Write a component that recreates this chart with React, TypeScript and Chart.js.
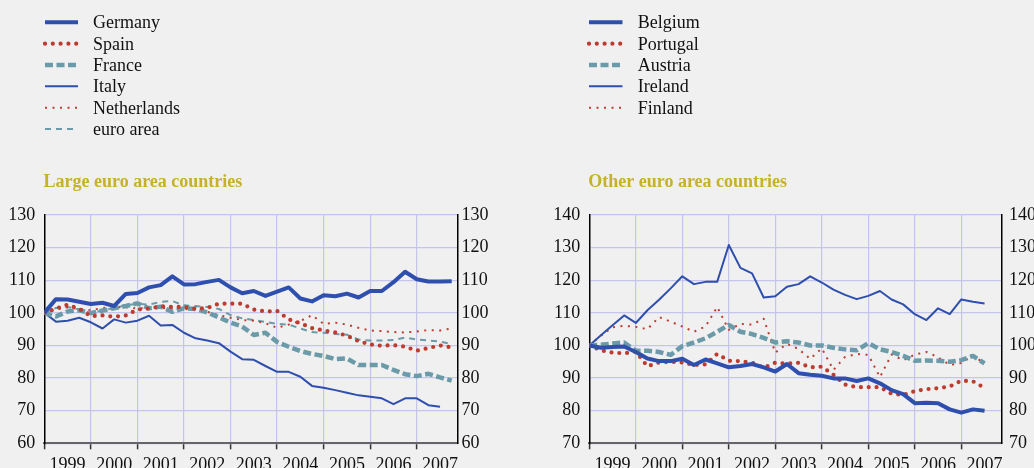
import React, { useEffect, useRef } from "react";
import { Chart, registerables } from "chart.js";

Chart.register(...registerables);

// ---------- data (quarterly, 1999 Q1 = index 0) ----------
const years = ["1999", "2000", "2001", "2002", "2003", "2004", "2005", "2006", "2007"];

const germany = [100, 104.2, 104.1, 103.4, 102.7, 103.1, 102.1, 105.8, 106.1, 107.8, 108.5, 111.2, 108.7, 108.8, 109.5, 110.1, 107.8, 106.0, 106.7, 105.2, 106.5, 107.8, 104.4, 103.5, 105.4, 105.1, 105.9, 104.7, 106.7, 106.7, 109.4, 112.6, 110.3, 109.6, 109.6, 109.7];
const spain = [100, 101.3, 102.5, 101.2, 99.0, 99.2, 98.8, 99.2, 101.0, 101.3, 102.0, 101.8, 101.8, 101.2, 101.5, 102.8, 102.8, 102.8, 101.0, 100.4, 100.6, 98.0, 96.8, 95.3, 94.6, 94.0, 93.0, 91.3, 90.3, 89.9, 90.1, 89.6, 88.4, 89.2, 90.0, 89.4];
const france = [100, 98.9, 100.4, 100.8, 99.9, 100.7, 101.4, 102.1, 102.9, 101.4, 101.9, 100.3, 101.4, 101.2, 100.1, 98.6, 97.0, 95.8, 93.2, 93.9, 91.1, 89.6, 88.3, 87.4, 86.8, 85.8, 86.0, 84.0, 84.0, 84.0, 82.5, 81.2, 80.6, 81.3, 80.2, 79.2];
const italy = [100, 97.3, 97.6, 98.5, 97.1, 95.2, 98.0, 97.0, 97.6, 99.1, 96.1, 96.3, 93.9, 92.2, 91.5, 90.7, 88.1, 85.8, 85.6, 83.7, 81.9, 81.9, 80.4, 77.6, 77.0, 76.3, 75.5, 74.7, 74.3, 73.8, 72.0, 73.8, 73.8, 71.7, 71.2];
const netherlands = [100, 101.0, 101.7, 101.2, 100.8, 101.5, 101.7, 101.7, 101.3, 101.5, 101.5, 101.3, 101.2, 101.0, 100.3, 99.3, 98.5, 97.8, 97.6, 96.8, 95.4, 96.4, 97.5, 99.3, 96.6, 97.0, 96.4, 95.4, 94.6, 94.4, 94.1, 94.0, 94.3, 94.7, 94.6, 95.2];
const euroArea = [100, 101.5, 101.8, 101.0, 100.0, 100.7, 101.5, 102.3, 102.8, 102.5, 103.4, 103.6, 102.3, 102.1, 101.8, 101.2, 99.3, 98.3, 97.8, 97.2, 96.6, 96.4, 95.2, 94.1, 93.9, 93.5, 93.3, 91.8, 91.5, 91.5, 91.7, 92.4, 91.8, 91.5, 91.2, 90.4];

const belgium = [100, 99.3, 99.5, 99.7, 98.0, 96.0, 95.2, 95.2, 95.9, 94.0, 95.7, 94.5, 93.3, 93.7, 94.3, 93.3, 92.0, 94.3, 91.5, 91.0, 90.7, 89.9, 89.9, 89.1, 89.9, 88.4, 86.3, 85.1, 82.3, 82.4, 82.3, 80.4, 79.4, 80.4, 80.0];
const portugal = [100, 98.5, 97.8, 97.6, 98.1, 93.6, 94.8, 95.0, 94.8, 94.0, 94.2, 97.4, 95.3, 95.2, 94.7, 93.2, 94.7, 94.4, 94.7, 93.3, 93.5, 91.0, 88.0, 87.2, 87.2, 87.2, 85.2, 84.8, 86.0, 86.6, 86.9, 87.4, 89.2, 89.0, 87.0];
const austria = [100, 100.2, 100.6, 100.9, 98.4, 98.4, 98.0, 97.1, 99.8, 100.9, 102.2, 104.2, 106.3, 104.2, 103.5, 102.3, 100.9, 101.3, 100.9, 100.0, 100.0, 99.3, 98.8, 98.5, 100.7, 98.8, 98.0, 96.8, 95.3, 95.4, 95.3, 95.0, 95.5, 96.8, 94.5];
const ireland = [100, 103.1, 106.2, 109.2, 106.9, 110.8, 114.0, 117.5, 121.2, 118.8, 119.5, 119.5, 130.8, 123.8, 122.1, 114.7, 115.1, 118.0, 118.8, 121.2, 119.3, 117.1, 115.5, 114.2, 115.2, 116.7, 114.1, 112.6, 109.6, 107.8, 111.4, 109.6, 114.1, 113.4, 112.9];
const finland = [100, 103.0, 105.6, 106.0, 105.7, 105.0, 108.7, 107.3, 105.8, 104.2, 105.8, 111.8, 104.8, 106.6, 106.4, 108.2, 97.8, 100.5, 98.9, 95.9, 99.1, 92.5, 96.5, 97.4, 97.1, 90.3, 97.2, 95.5, 97.2, 98.0, 96.4, 94.0, 94.6, 96.9, 94.5];

// ---------- styles ----------
const BLUE = "#2f4fae";
const RED = "#be3b30";
const TEAL = "#6b9aa8";
const GRID = "#c4c4ec";
const TITLE_COLOR = "#c5b12a";
const FONT_FAMILY = '"Liberation Serif", "Times New Roman", serif';

type StyleKey = "thickSolid" | "thickDots" | "thickDash" | "thinSolid" | "thinDots" | "thinDash";
const STYLES: Record<StyleKey, any> = {
  thickSolid: { borderColor: BLUE, borderWidth: 4, borderDash: [], borderCapStyle: "butt" },
  thickDots: { borderColor: RED, borderWidth: 4.2, borderDash: [0, 7.8], borderCapStyle: "round" },
  thickDash: { borderColor: TEAL, borderWidth: 4.5, borderDash: [8, 3.5], borderCapStyle: "butt" },
  thinSolid: { borderColor: BLUE, borderWidth: 2, borderDash: [], borderCapStyle: "butt" },
  thinDots: { borderColor: RED, borderWidth: 2, borderDash: [2, 5.5], borderCapStyle: "butt" },
  thinDash: { borderColor: TEAL, borderWidth: 2, borderDash: [6, 5], borderCapStyle: "butt" },
};

const leftSeries: [string, number[], StyleKey][] = [
  ["Germany", germany, "thickSolid"],
  ["Spain", spain, "thickDots"],
  ["France", france, "thickDash"],
  ["Italy", italy, "thinSolid"],
  ["Netherlands", netherlands, "thinDots"],
  ["euro area", euroArea, "thinDash"],
];
const rightSeries: [string, number[], StyleKey][] = [
  ["Belgium", belgium, "thickSolid"],
  ["Portugal", portugal, "thickDots"],
  ["Austria", austria, "thickDash"],
  ["Ireland", ireland, "thinSolid"],
  ["Finland", finland, "thinDots"],
];

const tickValues: number[] = years.flatMap((_, k) => [4 * k, 4 * k + 2]);

const decorPlugin = {
  id: "decor",
  afterDraw(chart: any, _args: any, o: any) {
    const ctx = chart.ctx;
    ctx.save();
    ctx.textBaseline = "alphabetic";
    ctx.textAlign = "left";
    ctx.font = `bold 18px ${FONT_FAMILY}`;
    ctx.fillStyle = TITLE_COLOR;
    ctx.fillText(o.title, o.titleX, 187);
    ctx.font = `18px ${FONT_FAMILY}`;
    chart.data.datasets.forEach((ds: any, i: number) => {
      const y = 22.3 + i * 21.35;
      ctx.save();
      ctx.beginPath();
      ctx.strokeStyle = ds.borderColor;
      ctx.lineWidth = ds.borderWidth;
      ctx.lineCap = ds.borderCapStyle;
      ctx.setLineDash(ds.borderDash || []);
      ctx.moveTo(o.sampleX0, y);
      ctx.lineTo(o.sampleX1, y);
      ctx.stroke();
      ctx.restore();
      ctx.fillStyle = "#111";
      ctx.fillText(ds.label, o.labelX, y + 6);
    });
    ctx.restore();
  },
};

function makeConfig(p: {
  series: [string, number[], StyleKey][];
  yMin: number;
  yMax: number;
  leftW: number;
  rightW: number;
  title: string;
  titleX: number;
  sampleX0: number;
  sampleX1: number;
  labelX: number;
  rightPad: number;
}): any {
  const font = { family: FONT_FAMILY, size: 18 };
  return {
    type: "line",
    data: {
      datasets: p.series.map(([label, values, style]) => ({
        label,
        data: values.map((v, i) => ({ x: i, y: v })),
        ...STYLES[style],
        pointRadius: 0,
        tension: 0,
        fill: false,
        borderJoinStyle: "round",
      })),
    },
    options: {
      animation: false,
      responsive: true,
      maintainAspectRatio: false,
      layout: { padding: { top: 215, left: 0, right: 0, bottom: 0 } },
      plugins: {
        legend: { display: false },
        title: { display: false },
        tooltip: { enabled: false },
        decor: {
          title: p.title,
          titleX: p.titleX,
          sampleX0: p.sampleX0,
          sampleX1: p.sampleX1,
          labelX: p.labelX,
        },
      },
      scales: {
        x: {
          type: "linear",
          min: 0,
          max: 35.5,
          afterBuildTicks: (s: any) => {
            s.ticks = tickValues.map((v) => ({ value: v }));
          },
          afterFit: (s: any) => {
            s.height = 24.7;
          },
          grid: {
            color: (c: any) => (c.tick && c.tick.value % 4 === 0 && c.tick.value > 0 ? GRID : "rgba(0,0,0,0)"),
            tickColor: (c: any) => (c.tick && c.tick.value % 4 === 0 ? "#333" : "rgba(0,0,0,0)"),
            tickLength: 6,
            lineWidth: 1.2,
            tickWidth: 1.5,
          },
          border: { color: "#666", width: 2 },
          ticks: {
            autoSkip: false,
            maxRotation: 0,
            minRotation: 0,
            padding: 5,
            font,
            color: "#111",
            callback: (v: number) => (v % 4 === 2 ? years[(v - 2) / 4] : ""),
          },
        },
        y: {
          position: "left",
          min: p.yMin,
          max: p.yMax,
          afterFit: (s: any) => {
            s.width = p.leftW;
          },
          ticks: { stepSize: 10, padding: 9, font, color: "#111" },
          grid: { color: GRID, drawTicks: false, lineWidth: 1.2 },
          border: { color: "#000", width: 1.5 },
        },
        y2: {
          position: "right",
          min: p.yMin,
          max: p.yMax,
          afterFit: (s: any) => {
            s.width = p.rightW;
          },
          ticks: { stepSize: 10, padding: p.rightPad, font, color: "#111" },
          grid: { display: false, drawTicks: false },
          border: { color: "#000", width: 1.5 },
        },
      },
    },
    plugins: [decorPlugin],
  };
}

function Panel(props: { left: number; config: any }) {
  const ref = useRef<HTMLCanvasElement | null>(null);
  useEffect(() => {
    if (!ref.current) return;
    const chart = new Chart(ref.current, props.config);
    return () => chart.destroy();
  }, []);
  return (
    <div style={{ position: "absolute", left: props.left, top: 0, width: 517, height: 468 }}>
      <canvas ref={ref} />
    </div>
  );
}

export default function App() {
  const leftConfig = makeConfig({
    series: leftSeries,
    yMin: 60,
    yMax: 130,
    leftW: 44.3,
    rightW: 59.5,
    title: "Large euro area countries",
    titleX: 43.5,
    sampleX0: 45,
    sampleX1: 78,
    labelX: 93,
    rightPad: 4,
  });
  const rightConfig = makeConfig({
    series: rightSeries,
    yMin: 70,
    yMax: 140,
    leftW: 72.3,
    rightW: 32,
    title: "Other euro area countries",
    titleX: 71.3,
    sampleX0: 72,
    sampleX1: 105.5,
    labelX: 120.7,
    rightPad: 7,
  });
  return (
    <div
      style={{
        position: "fixed",
        left: 0,
        top: 0,
        width: 1034,
        height: 468,
        background: "#f0f0f0",
        overflow: "hidden",
      }}
    >
      <Panel left={0} config={leftConfig} />
      <Panel left={517} config={rightConfig} />
    </div>
  );
}
